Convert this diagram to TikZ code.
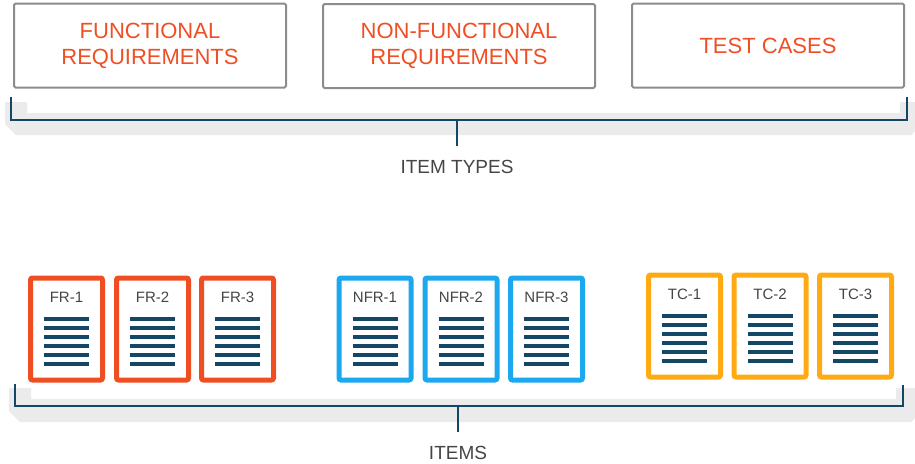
\documentclass[tikz,border=0pt]{standalone}
\usepackage{fontspec}
\setmainfont{Liberation Sans}
\definecolor{reqred}{HTML}{F04E23}
\definecolor{frame}{HTML}{8C8C8C}
\definecolor{navy}{HTML}{144766}
\definecolor{shelf}{HTML}{EBEBEB}
\definecolor{labelgrey}{HTML}{454545}
\definecolor{frcol}{HTML}{EF4E23}
\definecolor{nfrcol}{HTML}{1BA8EE}
\definecolor{tccol}{HTML}{FFAA12}
\begin{document}
\begin{tikzpicture}[x=1pt,y=-1pt,
  typebox/.style={draw=frame,line width=2pt,rounded corners=1.5pt,fill=white,
    minimum width=272pt,minimum height=84pt,inner sep=0pt,align=center,
    text=reqred,font=\fontsize{22pt}{26pt}\selectfont},
  docbox/.style={draw=#1,line width=5pt,rounded corners=2pt,fill=white,
    minimum width=72pt,minimum height=102pt,inner sep=0pt},
  doclabel/.style={text=labelgrey,font=\fontsize{15pt}{17pt}\selectfont,inner sep=0pt},
  docline/.style={draw=navy,line width=4pt},
  bracket/.style={draw=navy,line width=2.4pt},
  caption/.style={text=labelgrey,font=\fontsize{19pt}{22pt}\selectfont,inner sep=0pt}]
\useasboundingbox (0,0) rectangle (915,463);

% item type boxes
\node[typebox] (fr) at (150,45.5) {FUNCTIONAL\\REQUIREMENTS};
\node[typebox] (nfr) at (459,46) {NON-FUNCTIONAL\\REQUIREMENTS};
\node[typebox] (tc) at (768,45.5) {TEST CASES};

% shelf under the upper bracket
\fill[shelf] (5,102) -- (27,102) -- (27,113) -- (900,113) -- (900,102) -- (915,102)
  -- (915,131) -- (911,135) -- (16,135) -- (5,124) -- cycle;
% upper bracket
\coordinate (ta) at (11,97);
\coordinate (tb) at (11,120);
\coordinate (tc2) at (907,120);
\coordinate (td) at (907,97);
\coordinate (tm) at (457,120);
\node[caption] (types) at (457,167) {ITEM TYPES};
\draw[bracket] (ta) -- (tb) -- (tc2) -- (td);
\draw[bracket] (tm) -- (types.north |- 0,146);

% item documents: name, centre x, top y, colour
\foreach \nm/\cx/\ty/\col in {FR-1/66.5/273/frcol, FR-2/152.5/273/frcol, FR-3/237.5/273/frcol,
    NFR-1/375/273/nfrcol, NFR-2/461/273/nfrcol, NFR-3/546.5/273/nfrcol,
    TC-1/684.5/270/tccol, TC-2/770/270/tccol, TC-3/855.5/270/tccol}{
  \node[docbox=\col,anchor=north] (\nm) at (\cx,\ty+2.5) {};
  \node[doclabel] (\nm-label) at (\cx,\ty+24.5) {\nm};
  \foreach \k in {0,...,5}{
    \draw[docline] (\cx-22.5,\ty+45.7+9*\k) -- (\cx+22.5,\ty+45.7+9*\k);
  }
}

% shelf under the lower bracket
\fill[shelf] (9,388) -- (31,388) -- (31,399) -- (896,399) -- (896,388) -- (915,388)
  -- (915,418) -- (911,422) -- (20,422) -- (9,411) -- cycle;
% lower bracket
\coordinate (ba) at (15,384);
\coordinate (bb) at (15,406);
\coordinate (bc) at (903,406);
\coordinate (bd) at (903,385);
\coordinate (bm) at (458,406);
\node[caption] (items) at (458,452.5) {ITEMS};
\draw[bracket] (ba) -- (bb) -- (bc) -- (bd);
\draw[bracket] (bm) -- (items.north |- 0,432);
\end{tikzpicture}
\end{document}
